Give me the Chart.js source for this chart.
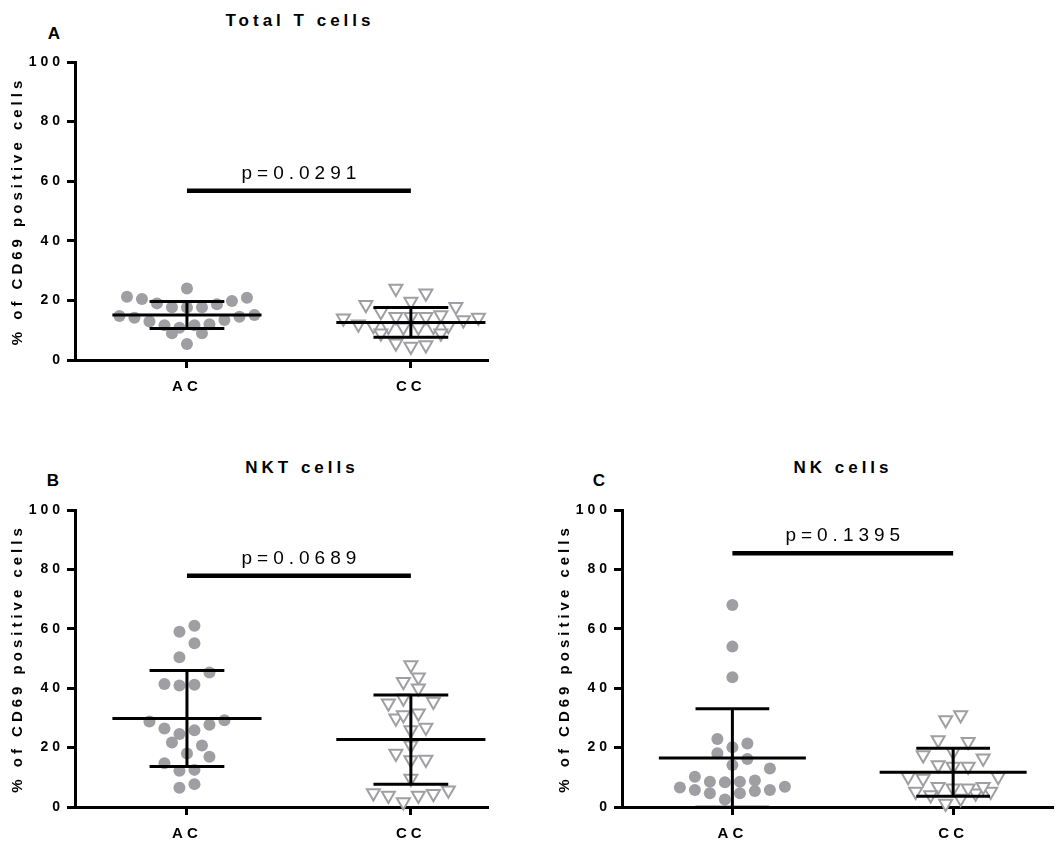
<!DOCTYPE html>
<html>
<head>
<meta charset="utf-8">
<script src="https://cdn.jsdelivr.net/npm/chart.js@4.4.1/dist/chart.umd.min.js"></script>
<style>
  html, body { margin: 0; padding: 0; background: #fff; }
  body { width: 1062px; height: 843px; position: relative; overflow: hidden; font-family: "Liberation Sans", Arial, sans-serif; color: #000; }
  .panel { position: absolute; }
  .title { position: absolute; font-weight: bold; font-size: 17px; letter-spacing: 4px; transform: translate(-50%, -50%); white-space: nowrap; }
  .letter { position: absolute; font-weight: bold; font-size: 17px; transform: translate(-50%, -50%); }
</style>
</head>
<body>
<div class="title" style="left:300px;top:21px">Total T cells</div>
<div class="letter" style="left:54px;top:34px">A</div>
<div class="title" style="left:302px;top:468px">NKT cells</div>
<div class="letter" style="left:53px;top:481px">B</div>
<div class="title" style="left:843px;top:468px">NK cells</div>
<div class="letter" style="left:599px;top:481px">C</div>

<canvas id="chart-a" class="panel" width="500" height="410" style="left:0;top:0"></canvas>
<canvas id="chart-b" class="panel" width="500" height="395" style="left:0;top:448px"></canvas>
<canvas id="chart-c" class="panel" width="515" height="395" style="left:547px;top:448px"></canvas>

<script>
// ── Data ──────────────────────────────────────────────────────────────────────
const groups      = ['AC', 'CC'];
const yTickValues = [0, 20, 40, 60, 80, 100];

const totalT_AC = [24.0, 21.2, 19.8, 18.7, 17.7, 17.7, 19.0, 20.5, 20.9, 17.6, 14.8, 14.2, 12.9, 11.7, 11.7, 12.0, 13.4, 14.5, 15.1, 9.0, 9.0, 10.8, 5.4];
const totalT_CC = [24.0, 22.4, 19.6, 17.9, 18.5, 14.5, 14.5, 14.3, 13.4, 11.5, 11.2, 11.0, 11.0, 11.2, 11.5, 12.0, 14.0, 14.5, 15.1, 16.2, 9.0, 9.0, 5.6, 4.5, 5.0];
const totalT_mean = [15.1, 12.6];
const totalT_sd   = [4.5, 5.0];

const nkt_AC = [61.0, 59.0, 55.1, 50.4, 45.3, 41.4, 40.9, 41.2, 28.8, 26.4, 27.7, 29.2, 25.8, 24.6, 20.7, 21.7, 18.0, 16.9, 14.7, 12.2, 12.5, 6.5, 7.7];
const nkt_CC = [47.8, 43.7, 42.2, 40.0, 36.6, 34.9, 35.5, 31.6, 29.9, 31.0, 26.8, 25.9, 20.8, 18.0, 15.8, 16.0, 9.6, 4.5, 3.9, 1.7, 3.9, 4.7, 5.6];
const nkt_mean = [29.8, 22.7];
const nkt_sd   = [16.2, 15.0];

const nk_AC = [68.0, 54.0, 43.7, 22.9, 20.1, 21.4, 18.1, 16.2, 13.0, 14.1, 10.2, 8.9, 8.5, 8.3, 8.5, 6.6, 6.8, 5.7, 4.6, 4.6, 5.4, 5.7, 2.5];
const nk_CC = [31.0, 29.3, 22.6, 22.0, 18.6, 17.5, 16.4, 14.1, 13.6, 13.6, 10.2, 9.6, 10.2, 6.8, 6.3, 5.2, 4.0, 1.2, 2.9, 4.6, 5.2, 6.3, 6.8];
const nk_mean = [16.5, 11.7];
const nk_sd   = [16.6, 8.1];

const pTexts  = ['p=0.0291', 'p=0.0689', 'p=0.1395'];
const pLevels = [56.8, 77.9, 85.4];

// ── Style constants ──────────────────────────────────────────────────────────
const FONT      = '"Liberation Sans", Arial, sans-serif';
const GREY      = '#9e9ea3';
const MEAN_HALF = 0.333;   // half width of mean line, in category units
const SD_HALF   = 0.167;   // half width of SD caps
const ROW_PX    = 14;      // swarm row height
const MAX_ROW   = 10;      // most dots side by side
const SLOT_PX   = 15;      // swarm horizontal spacing

// ── Helpers ──────────────────────────────────────────────────────────────────
function errorBars(center, mean, sd) {
  const hi = mean + sd, lo = mean - sd;
  return [
    { x: center - MEAN_HALF, y: mean }, { x: center + MEAN_HALF, y: mean }, { x: center, y: null },
    { x: center - SD_HALF, y: hi },     { x: center + SD_HALF, y: hi },     { x: center, y: null },
    { x: center - SD_HALF, y: lo },     { x: center + SD_HALF, y: lo },     { x: center, y: null },
    { x: center, y: hi },               { x: center, y: lo },
  ];
}

// Prism-like scatter: bin into rows, spread each row around the centre
function swarm(values, center, chart) {
  const xs = chart.scales.x, ys = chart.scales.y;
  const pxPerX = xs.getPixelForValue(2) - xs.getPixelForValue(1);
  const order = values.map((v, i) => i).sort((a, b) => values[a] - values[b]);
  const out = new Array(values.length);
  let i = 0;
  while (i < order.length) {
    const start = ys.getPixelForValue(values[order[i]]);
    const row = [];
    while (i < order.length && row.length < MAX_ROW &&
           start - ys.getPixelForValue(values[order[i]]) < ROW_PX) row.push(order[i++]);
    const even = row.length % 2 === 0;
    row.forEach((idx, k) => {
      let slot;
      if (even) slot = (Math.floor(k / 2) + 0.5) * (k % 2 === 0 ? -1 : 1);
      else      slot = k === 0 ? 0 : Math.ceil(k / 2) * (k % 2 === 1 ? 1 : -1);
      out[idx] = { x: center + slot * SLOT_PX / pxPerX, y: values[idx] };
    });
  }
  return out;
}

const spacingPlugin = {
  id: 'spacing',
  beforeDraw(chart) { chart.ctx.letterSpacing = '4px'; },
};

const pLabelPlugin = {
  id: 'pLabel',
  afterDatasetsDraw(chart, args, opts) {
    const { ctx, scales: { x, y } } = chart;
    const cx = (x.getPixelForValue(1) + x.getPixelForValue(2)) / 2;
    const py = y.getPixelForValue(opts.at);
    ctx.save();
    ctx.font = `19px ${FONT}`;
    ctx.letterSpacing = '5px';
    ctx.fillStyle = '#000';
    ctx.textAlign = 'center';
    ctx.textBaseline = 'alphabetic';
    ctx.fillText(opts.text, cx + 2.5, py - 12);
    ctx.restore();
  },
};

// ── Panel builder ────────────────────────────────────────────────────────────
function makePanel(id, series, means, sds, pIdx, xMax, rightPad, xAxisH) {
  const line = (data, width) => ({
    type: 'scatter', data, showLine: true, spanGaps: false,
    borderColor: '#000', borderWidth: width, borderCapStyle: 'butt',
    pointRadius: 0, order: 0, clip: false,
  });
  const chart = new Chart(document.getElementById(id), {
    type: 'scatter',
    data: {
      datasets: [
        line([{ x: 1, y: pLevels[pIdx] }, { x: 2, y: pLevels[pIdx] }], 4.5),
        line(errorBars(1, means[0], sds[0]), 3),
        line(errorBars(2, means[1], sds[1]), 3),
        {
          data: series[0].map(v => ({ x: 1, y: v })),
          pointStyle: 'circle', pointRadius: 6,
          pointBackgroundColor: GREY, pointBorderColor: GREY, pointBorderWidth: 0,
          order: 1, clip: false,
        },
        {
          data: series[1].map(v => ({ x: 2, y: v })),
          pointStyle: 'triangle', pointRotation: 180, pointRadius: 7.5,
          pointBackgroundColor: '#fff', pointBorderColor: GREY, pointBorderWidth: 2,
          order: 1, clip: false,
        },
      ],
    },
    options: {
      responsive: false, animation: false, events: [],
      layout: { padding: { top: 62, right: rightPad, left: 0, bottom: 0 } },
      plugins: { legend: { display: false }, tooltip: { enabled: false }, pLabel: { text: pTexts[pIdx], at: pLevels[pIdx] } },
      scales: {
        x: {
          type: 'linear', min: 0.5, max: xMax,
          afterBuildTicks: s => { s.ticks = groups.map((g, i) => ({ value: i + 1 })); },
          afterFit: s => { s.height = xAxisH; },
          ticks: { callback: v => groups[v - 1], color: '#000', padding: 10, maxRotation: 0, font: { family: FONT, weight: 'bold', size: 15 } },
          grid: { drawOnChartArea: false, drawTicks: true, tickLength: 8, color: '#000', lineWidth: 3 },
          border: { display: true, color: '#000', width: 3 },
        },
        y: {
          type: 'linear', min: 0, max: 100,
          afterBuildTicks: s => { s.ticks = yTickValues.map(v => ({ value: v })); },
          afterFit: s => { s.width = 75; },
          ticks: { color: '#000', padding: 3, font: { family: FONT, weight: 'bold', size: 14 } },
          grid: { drawOnChartArea: false, drawTicks: true, tickLength: 8, color: '#000', lineWidth: 3 },
          border: { display: true, color: '#000', width: 3 },
          title: { display: true, text: '% of CD69 positive cells', color: '#000', padding: { top: 9, bottom: 0 }, font: { family: FONT, weight: 'bold', size: 15 } },
        },
      },
    },
    plugins: [spacingPlugin, pLabelPlugin],
  });

  // spread the dots once the scales are known
  chart.data.datasets[3].data = swarm(series[0], 1, chart);
  chart.data.datasets[4].data = swarm(series[1], 2, chart);
  chart.update('none');
  return chart;
}

// ── Init ─────────────────────────────────────────────────────────────────────
makePanel('chart-a', [totalT_AC, totalT_CC], totalT_mean, totalT_sd, 0, 2.34, 13, 50);
makePanel('chart-b', [nkt_AC, nkt_CC], nkt_mean, nkt_sd, 1, 2.34, 13, 36);
makePanel('chart-c', [nk_AC, nk_CC], nk_mean, nk_sd, 2, 2.45, 0, 36);
</script>
</body>
</html>
